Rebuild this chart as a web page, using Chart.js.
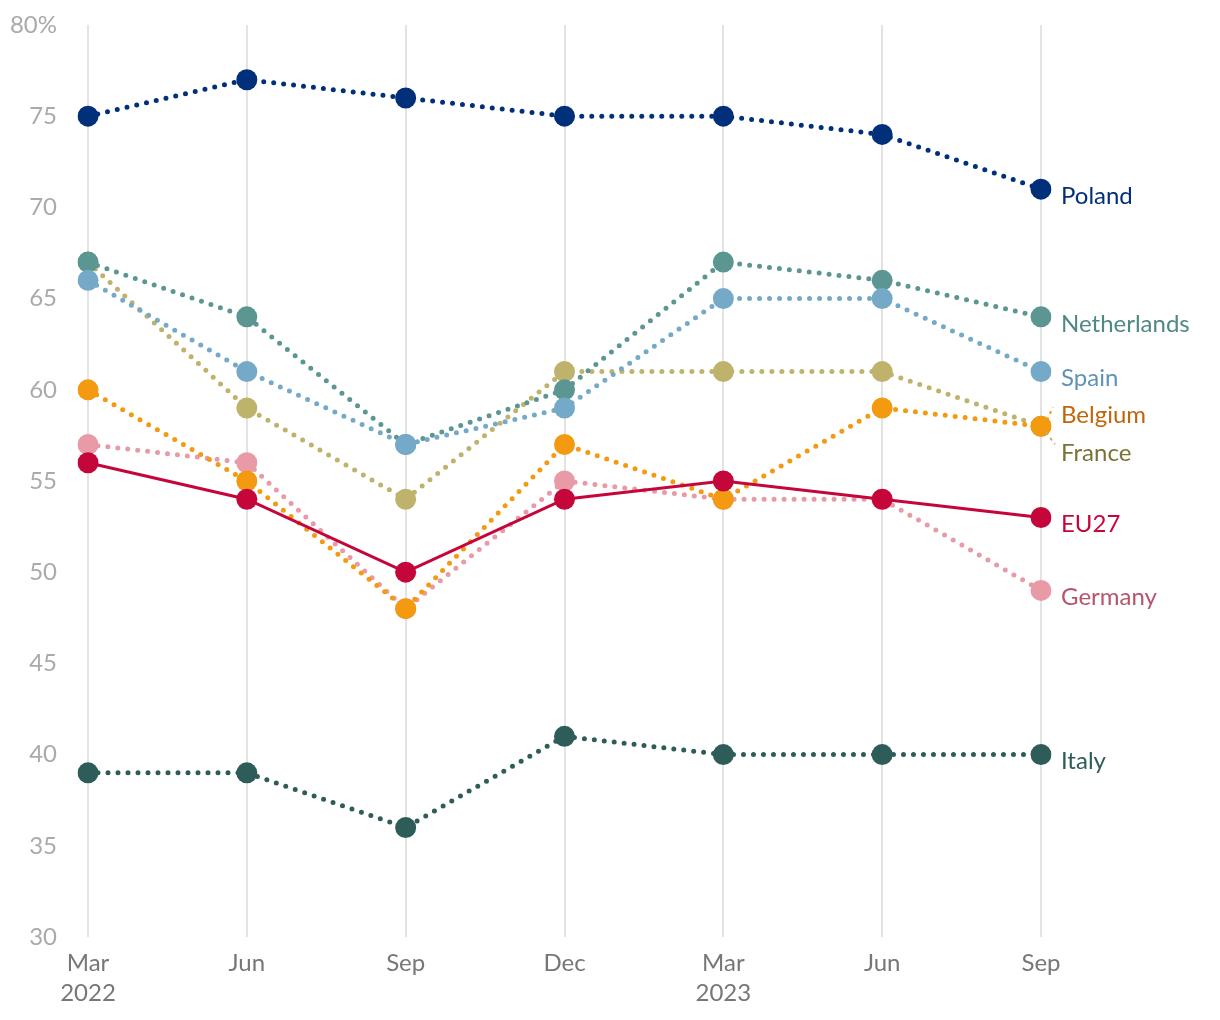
<!DOCTYPE html>
<html>
<head>
<meta charset="utf-8">
<script src="https://cdn.jsdelivr.net/npm/chart.js@4"></script>
<style>
  html, body { margin: 0; padding: 0; background: #fff; }
  #wrap { width: 1220px; height: 1020px; }
</style>
</head>
<body>
<div id="wrap"><canvas id="c" width="1220" height="1020"></canvas></div>
<script>
const categories = [['Mar', '2022'], 'Jun', 'Sep', 'Dec', ['Mar', '2023'], 'Jun', 'Sep'];
const yTicks = [30, 35, 40, 45, 50, 55, 60, 65, 70, 75, 80];

const eu27 = [56, 54, 50, 54, 55, 54, 53];
const belgium = [60, 55, 48, 57, 54, 59, 58];
const germany = [57, 56, 48, 55, 54, 54, 49];
const france = [67, 59, 54, 61, 61, 61, 58];
const spain = [66, 61, 57, 59, 65, 65, 61];
const netherlands = [67, 64, 57, 60, 67, 66, 64];
const poland = [75, 77, 76, 75, 75, 74, 71];
const italy = [39, 39, 36, 41, 40, 40, 40];

const seriesNames = ['EU27', 'Belgium', 'Germany', 'Spain', 'Netherlands', 'France', 'Poland', 'Italy'];
const seriesData = [eu27, belgium, germany, spain, netherlands, france, poland, italy];
const colors = ['#c5063b', '#f39a11', '#e89aa6', '#75a9c8', '#5c9692', '#bfb36c', '#01307a', '#2e5d59'];
const labelColors = ['#c5063b', '#c0650a', '#b5566b', '#5f93b5', '#4f8985', '#7a7434', '#01307a', '#2e5d59'];
const labelShift = { 'Belgium': 1.0, 'France': -1.1 };

const datasets = seriesNames.map((name, i) => ({
  label: name,
  data: seriesData[i],
  borderColor: colors[i],
  backgroundColor: colors[i],
  pointBackgroundColor: colors[i],
  pointBorderWidth: 0,
  pointRadius: 10.5,
  borderWidth: name === 'EU27' ? 3 : 5,
  borderDash: name === 'EU27' ? [] : [0, 10],
  borderCapStyle: 'round',
  tension: 0,
  fill: false
}));

const endLabels = {
  id: 'endLabels',
  afterDatasetsDraw(chart) {
    const ctx = chart.ctx;
    const ys = chart.scales.y;
    const xs = chart.scales.x;
    ctx.save();
    ctx.font = '24px Lato';
    ctx.textBaseline = 'middle';
    ctx.textAlign = 'left';
    chart.data.datasets.forEach((ds, i) => {
      const last = ds.data[ds.data.length - 1];
      const px = xs.getPixelForValue(ds.data.length - 1);
      const py = ys.getPixelForValue(last);
      const shift = labelShift[ds.label] || 0;
      const ly = ys.getPixelForValue(last + shift) + 7;
      if (shift !== 0) {
        ctx.strokeStyle = colors[i];
        ctx.lineWidth = 2;
        ctx.setLineDash([3, 4]);
        ctx.beginPath();
        if (shift > 0) {
          ctx.moveTo(px + 6, py - 6);
          ctx.lineTo(px + 12, ly - 8);
        } else {
          ctx.moveTo(px + 5, py + 6);
          ctx.lineTo(px + 14, ly - 9);
        }
        ctx.stroke();
        ctx.setLineDash([]);
      }
      ctx.fillStyle = labelColors[i];
      ctx.fillText(ds.label, px + 20, ly);
    });
    ctx.restore();
  }
};

new Chart(document.getElementById('c'), {
  type: 'line',
  data: { labels: categories, datasets },
  plugins: [endLabels],
  options: {
    responsive: false,
    animation: false,
    layout: { padding: { top: 25, right: 179, bottom: 0, left: 0 } },
    plugins: { legend: { display: false }, tooltip: { enabled: false } },
    scales: {
      x: {
        offset: false,
        grid: { display: true, color: '#e3e3e3', lineWidth: 2, drawTicks: false },
        border: { display: false },
        ticks: { color: '#777', font: { family: 'Lato', size: 24, lineHeight: 1.22 }, padding: 12, maxRotation: 0, autoSkip: false },
        afterFit(scale) { scale.height = 83; scale.paddingTop = 0; scale.paddingBottom = 0; }
      },
      y: {
        min: 30, max: 80,
        afterBuildTicks(scale) { scale.ticks = yTicks.map(v => ({ value: v })); },
        grid: { display: false, drawTicks: false },
        border: { display: false },
        ticks: {
          color: '#aaa', font: { family: 'Lato', size: 24 }, padding: 31,
          callback: v => v === 80 ? '80%' : String(v)
        },
        afterFit(scale) { scale.width = 88; scale.paddingTop = 0; scale.paddingBottom = 0; }
      }
    }
  }
});
</script>
</body>
</html>
